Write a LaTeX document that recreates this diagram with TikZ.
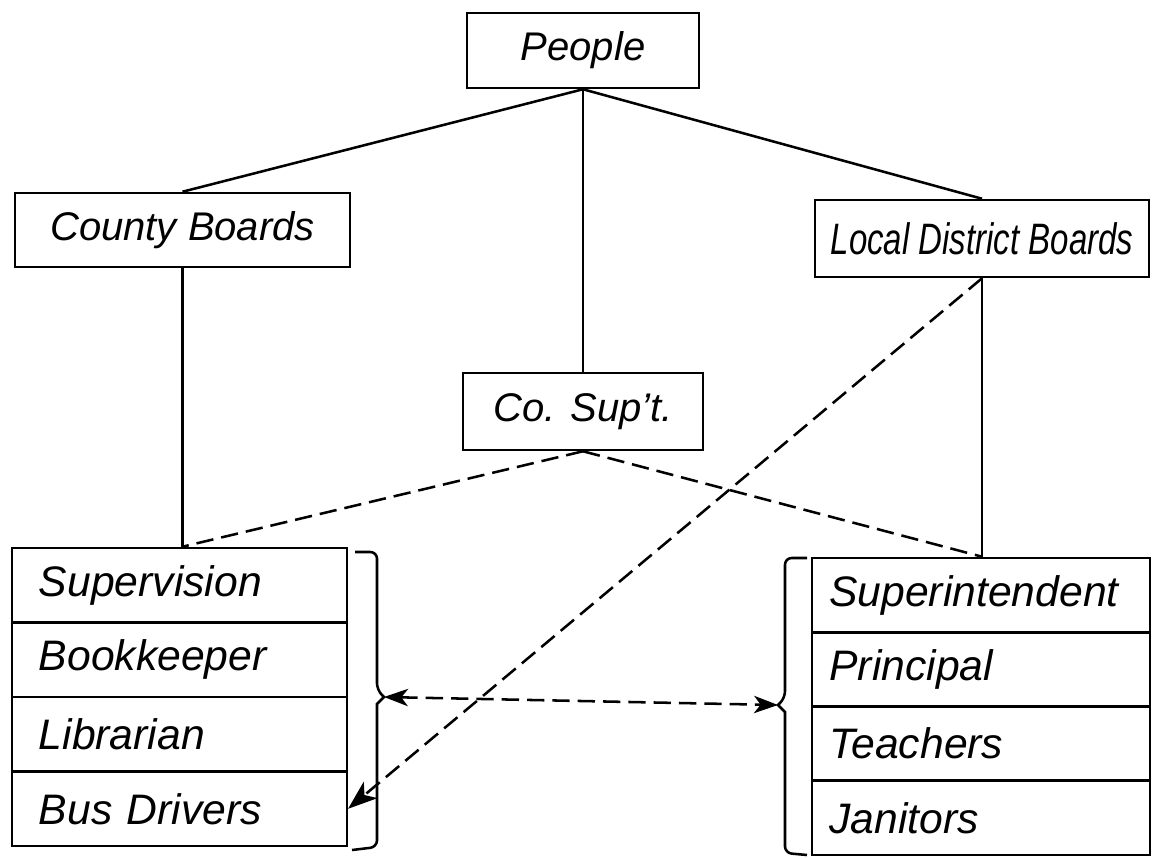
\documentclass[tikz,border=0pt]{standalone}
\usepackage{fontspec}
\setmainfont{Liberation Sans}
\usepackage{graphicx}
\usetikzlibrary{arrows.meta}
\begin{document}
\begin{tikzpicture}[x=0.75pt,y=-0.75pt,
  ln/.style={line width=1.9pt},
  dsh/.style={line width=1.9pt, dash pattern=on 13pt off 6pt},
  hbox/.style={draw, line width=1.9pt, inner sep=0pt, font=\fontsize{30}{32}\selectfont\itshape},
  row/.style={draw, line width=1.9pt, inner ysep=0pt, align=left, font=\fontsize{32}{34}\selectfont\itshape},
  lrow/.style={row, inner xsep=20pt, text width=211pt, minimum height=55.9pt},
  rrow/.style={row, inner xsep=13pt, text width=227.5pt, minimum height=55.7pt},
  tipr/.style={-{Stealth[length=22pt,width=16pt,inset=6pt]}},
  tipb/.style={{Stealth[length=18pt,width=13pt,inset=5pt]}-{Stealth[length=18pt,width=13pt,inset=5pt]}}
]
\useasboundingbox (0,0) rectangle (1153,858);
\node[hbox, minimum width=174pt, minimum height=56.25pt] (people) at (583,50.5) {People};
\node[hbox, minimum width=251.25pt, minimum height=55.5pt] (county) at (182.5,230) {County Boards};
\node[hbox, minimum width=250.5pt, minimum height=57.75pt] (local) at (982,238.5) {\scalebox{0.75}[1]{\fontsize{33}{35}\selectfont\itshape Local District Boards}};
\node[hbox, minimum width=180pt, minimum height=57.75pt] (cosup) at (583,411.5) {Co. Sup't.};

\node[lrow] (sup) at (179.5,585.25) {Supervision};
\node[lrow] (book) at (179.5,659.75) {Bookkeeper};
\node[lrow] (lib) at (179.5,734.25) {Librarian};
\node[lrow] (bus) at (179.5,808.75) {Bus Drivers};

\node[rrow] (supt) at (981,595.1) {Superintendent};
\node[rrow] (prin) at (981,669.4) {Principal};
\node[rrow] (teach) at (981,743.6) {Teachers};
\node[rrow] (jan) at (981,817.9) {Janitors};

\draw[ln] (people.south) -- (county.north);
\draw[ln] (people.south) -- (cosup.north);
\draw[ln] (people.south) -- (local.north);
\draw[ln] (county.south) -- (county.south |- sup.north);
\draw[ln] (local.south) -- (local.south |- supt.north);
\draw[dsh] (cosup.south) -- (county.south |- sup.north);
\draw[dsh] (cosup.south) -- (local.south |- supt.north);
\draw[dsh, tipr] (local.south) -- (bus.east);

\coordinate (lbc) at (384,697);
\coordinate (rbc) at (778,705);
\draw[ln, rounded corners=5pt] (355,552) -- (377,552) -- (377,690) [sharp corners] -- (lbc) -- (377,704) [rounded corners=5pt] -- (377,847) -- (352,850);
\draw[ln, rounded corners=5pt] (807,558) -- (785,558) -- (785,698) [sharp corners] -- (rbc) -- (785,712) [rounded corners=5pt] -- (785,853) -- (807,855);
\draw[dsh, tipb] (lbc) -- (rbc);
\end{tikzpicture}
\end{document}
